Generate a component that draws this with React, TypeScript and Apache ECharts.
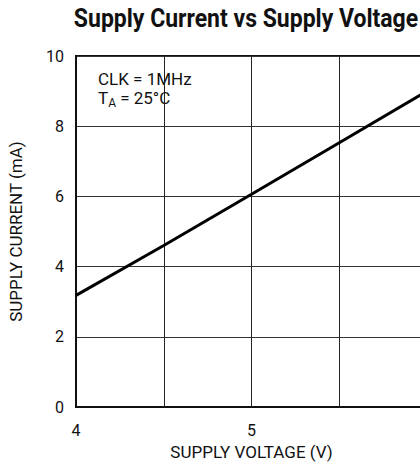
import React, { useEffect, useRef } from "react";
import * as echarts from "echarts";

const voltage = [4, 4.5, 5, 5.5, 6];
const current = [3.18, 4.6, 6.06, 7.53, 9.0];
const xTicks = [4, 5];
const yTicks = [0, 2, 4, 6, 8, 10];

const FONT = "Roboto, 'Liberation Sans', sans-serif";

export default function App() {
  const ref = useRef<HTMLDivElement>(null);
  useEffect(() => {
    document.body.style.margin = "0";
    if (!ref.current) return;
    const chart = echarts.init(ref.current, undefined, { renderer: "svg" });
    chart.setOption({
      animation: false,
      backgroundColor: "#ffffff",
      textStyle: { fontFamily: FONT },
      grid: {
        left: 76,
        width: 351,
        top: 56,
        height: 351,
        outerBoundsMode: "none",
        containLabel: false,
        show: true,
        borderColor: "#111",
        borderWidth: 2,
        backgroundColor: "transparent",
      },
      xAxis: {
        type: "value",
        min: 4,
        max: 6,
        interval: 0.5,
        name: "SUPPLY VOLTAGE (V)",
        nameLocation: "middle",
        nameGap: 36,
        nameTextStyle: { fontFamily: FONT, fontSize: 17, color: "#111" },
        axisLine: { show: true, lineStyle: { color: "#111", width: 2 } },
        axisTick: { show: false },
        axisLabel: {
          fontFamily: FONT,
          fontSize: 16,
          color: "#111",
          margin: 15,
          formatter: (v: number) => (xTicks.includes(v) ? String(v) : ""),
        },
        splitLine: { show: true, lineStyle: { color: "#222", width: 1 } },
      },
      yAxis: {
        type: "value",
        min: 0,
        max: 10,
        interval: 2,
        name: "SUPPLY CURRENT (mA)",
        nameLocation: "middle",
        nameGap: 52,
        nameTextStyle: { fontFamily: FONT, fontSize: 17, color: "#111" },
        axisLine: { show: true, lineStyle: { color: "#111", width: 2 } },
        axisTick: { show: false },
        axisLabel: {
          fontFamily: FONT,
          fontSize: 16,
          color: "#111",
          margin: 12,
          formatter: (v: number) => (yTicks.includes(v) ? String(v) : ""),
        },
        splitLine: { show: true, lineStyle: { color: "#333", width: 1 } },
      },
      graphic: [
        {
          type: "text",
          x: 246,
          y: 6,
          scaleX: 0.92,
          style: {
            text: "Supply Current vs Supply Voltage",
            font: `bold 25px ${FONT}`,
            fill: "#111",
            align: "center",
            verticalAlign: "top",
          },
        },
        {
          type: "text",
          x: 98,
          y: 70,
          style: {
            text: "CLK = 1MHz",
            font: `17px ${FONT}`,
            fill: "#111",
          },
        },
        {
          type: "text",
          x: 98,
          y: 89,
          style: {
            text: "{a|T}{s|A}{a| = 25°C}",
            fill: "#111",
            rich: {
              a: { fontFamily: FONT, fontSize: 17, fill: "#111", lineHeight: 20, verticalAlign: "top" },
              s: { fontFamily: FONT, fontSize: 12, fill: "#111", lineHeight: 12, verticalAlign: "bottom", padding: [9, 0, 0, 0] },
            },
          },
        },
      ],
      series: [
        {
          type: "line",
          data: voltage.map((v, i) => [v, current[i]]),
          showSymbol: false,
          lineStyle: { color: "#000", width: 3 },
          clip: true,
        },
      ],
    });
    return () => chart.dispose();
  }, []);
  return <div ref={ref} style={{ width: 420, height: 464 }} />;
}
